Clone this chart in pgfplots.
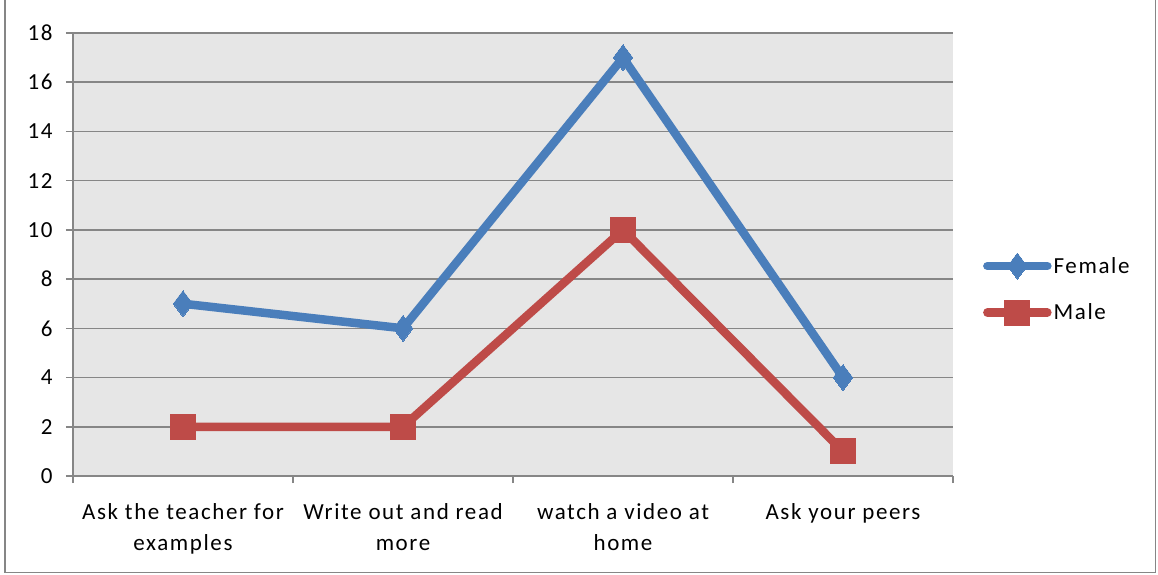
\documentclass[border=0pt]{standalone}
\usepackage{pgfplots}
\pgfplotsset{compat=1.18}
\usepackage{fontspec}
\setmainfont{Carlito}[LetterSpace=7]
\definecolor{femaleblue}{HTML}{4A7EBB}
\definecolor{malered}{HTML}{BE4B48}
\definecolor{gridgray}{HTML}{868686}
\definecolor{plotbg}{HTML}{E6E6E6}

\begin{document}
\begin{tikzpicture}
\useasboundingbox (0pt,0pt) rectangle (1158pt,574pt);
\draw[gridgray, line width=1.5pt] (5pt,574pt) -- (5pt,1.5pt) -- (1155.5pt,1.5pt) -- (1155.5pt,574pt);
\begin{axis}[
  at={(73pt,98pt)}, anchor=south west,
  scale only axis, width=880pt, height=443pt,
  xmin=-0.5, xmax=3.5, ymin=0, ymax=18,
  axis lines*=left,
  axis line style={gridgray, line width=1.5pt, -},
  axis background/.style={fill=plotbg},
  ytick={0,2,...,18},
  ymajorgrids, grid style={gridgray, line width=1.5pt},
  xtick={0,1,2,3},
  xticklabels={Ask the teacher for\\examples, Write out and read\\more, watch a video at\\home, Ask your peers},
  minor xtick={-0.5,0.5,1.5,2.5,3.5},
  major x tick style={draw=none},
  tick align=outside, major tick length=7pt, minor tick length=7pt,
  tick style={gridgray, line width=1.5pt},
  every tick label/.append style={font=\fontsize{23}{31}\selectfont, text=black},
  xticklabel style={align=center, yshift=-17pt},
  yticklabel style={xshift=-10pt},
  /pgf/number format/assume math mode=true,
  legend style={at={(1.034,0.422)}, anchor=west, draw=none, fill=none,
    font=\fontsize{23}{26}\selectfont, row sep=21pt, inner sep=0pt},
  legend cell align=left,
  legend image code/.code={\draw[mark repeat=2, mark phase=2, #1]
    plot coordinates {(0pt,0pt) (30pt,0pt) (60pt,0pt)};},
  clip=false,
]
\addplot[femaleblue, line width=8.5pt, line cap=round, line join=round,
  mark=diamond*, mark size=13pt, mark options={solid, line width=0pt, fill=femaleblue}]
  coordinates {(0,7) (1,6) (2,17) (3,4)};
\addlegendentry{Female}
\addplot[malered, line width=8.5pt, line cap=round, line join=round,
  mark=square*, mark size=12.5pt, mark options={solid, line width=0pt, fill=malered}]
  coordinates {(0,2) (1,2) (2,10) (3,1)};
\addlegendentry{Male}
\end{axis}
\end{tikzpicture}
\end{document}
